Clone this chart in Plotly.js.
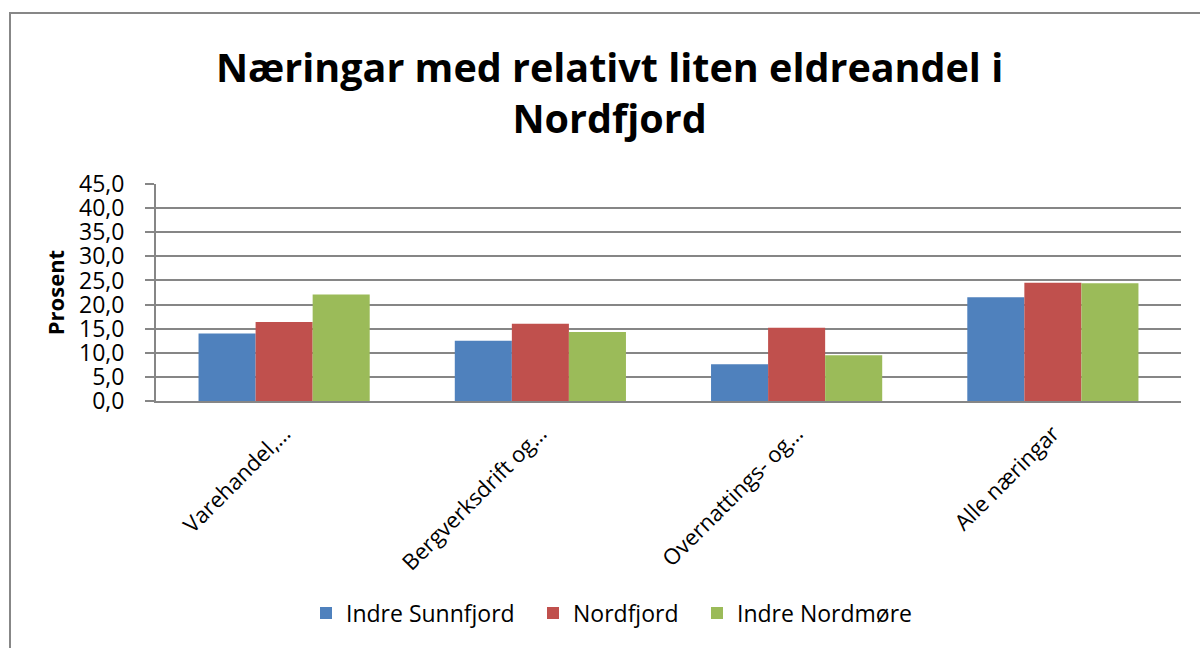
<!DOCTYPE html>
<html>
<head>
<meta charset="utf-8">
<script src="https://cdn.plot.ly/plotly-3.0.1.min.js"></script>
<style>
  html, body { margin: 0; padding: 0; overflow: hidden; background: #fff; }
  #chart { width: 1200px; height: 648px; position: absolute; left: 0; top: 0; }
  #frame { position: absolute; left: 9px; top: 12px; width: 1400px; height: 1000px;
           border-left: 2px solid #878787; border-top: 2px solid #878787; pointer-events: none; }
</style>
</head>
<body>
<div id="chart"></div>
<div id="frame"></div>
<script>
const categories = ["Varehandel,…", "Bergverksdrift og…", "Overnattings- og…", "Alle næringar"];
const seriesNames = ["Indre Sunnfjord", "Nordfjord", "Indre Nordmøre"];
const indreSunnfjord = [14.0, 12.5, 7.6, 21.5];
const nordfjord = [16.4, 16.0, 15.2, 24.5];
const indreNordmore = [22.1, 14.3, 9.5, 24.4];
const yTicks = [0, 5, 10, 15, 20, 25, 30, 35, 40, 45];
const colors = ["#4F81BD", "#C0504D", "#9BBB59"];

const FONT = "Open Sans, Noto Sans, sans-serif";
const seriesValues = [indreSunnfjord, nordfjord, indreNordmore];
const legendIds = ["legend", "legend2", "legend3"];
const legendLeft = [306, 533, 697];

const traces = seriesValues.map((vals, i) => ({
  type: "bar",
  name: seriesNames[i],
  x: categories,
  y: vals,
  legend: legendIds[i],
  marker: { color: colors[i], line: { width: 0 } },
  hovertemplate: "%{x}: %{y:.1f}<extra>" + seriesNames[i] + "</extra>"
}));

function legendAt(px) {
  return {
    orientation: "h",
    x: px / 1200, xref: "container", xanchor: "left",
    y: 1 - 613 / 648, yref: "container", yanchor: "middle",
    font: { family: FONT, size: 23, color: "#000000" },
    itemwidth: 30,
    bgcolor: "rgba(0,0,0,0)"
  };
}

const layout = {
  width: 1200,
  height: 648,
  paper_bgcolor: "#ffffff",
  plot_bgcolor: "#ffffff",
  separators: ", ",
  font: { family: FONT, color: "#000000", size: 22 },
  margin: { l: 156, r: 19, t: 183.5, b: 247, pad: 0 },
  title: {
    text: "Næringar med relativt liten eldreandel i<br>Nordfjord",
    font: { family: FONT, size: 39.5, color: "#000000", weight: "bold" },
    x: 0.508, xref: "container", xanchor: "center",
    y: 1 - 82 / 648, yref: "container", yanchor: "middle"
  },
  barmode: "group",
  bargap: 0.332,
  bargroupgap: 0,
  showlegend: true,
  legend: legendAt(legendLeft[0]),
  legend2: legendAt(legendLeft[1]),
  legend3: legendAt(legendLeft[2]),
  xaxis: {
    type: "category",
    tickangle: -45,
    showgrid: false,
    showline: true,
    linecolor: "#868686",
    linewidth: 2,
    ticks: "",
    ticklabelstandoff: 9,
    tickfont: { family: FONT, size: 22, color: "#000000" },
    zeroline: false,
    fixedrange: true
  },
  yaxis: {
    range: [0, 45],
    tickvals: yTicks,
    tickformat: ".1f",
    showgrid: true,
    gridcolor: "#868686",
    gridwidth: 2,
    showline: true,
    linecolor: "#868686",
    linewidth: 2,
    ticks: "outside",
    ticklen: 9,
    tickwidth: 2,
    tickcolor: "#868686",
    ticklabelstandoff: 16,
    tickfont: { family: FONT, size: 23, color: "#000000" },
    zeroline: false,
    title: {
      text: "Prosent",
      font: { family: FONT, size: 22, color: "#000000", weight: "bold" },
      standoff: 8
    },
    fixedrange: true
  }
};

Plotly.newPlot("chart", traces, layout, { displayModeBar: false });
</script>
</body>
</html>
